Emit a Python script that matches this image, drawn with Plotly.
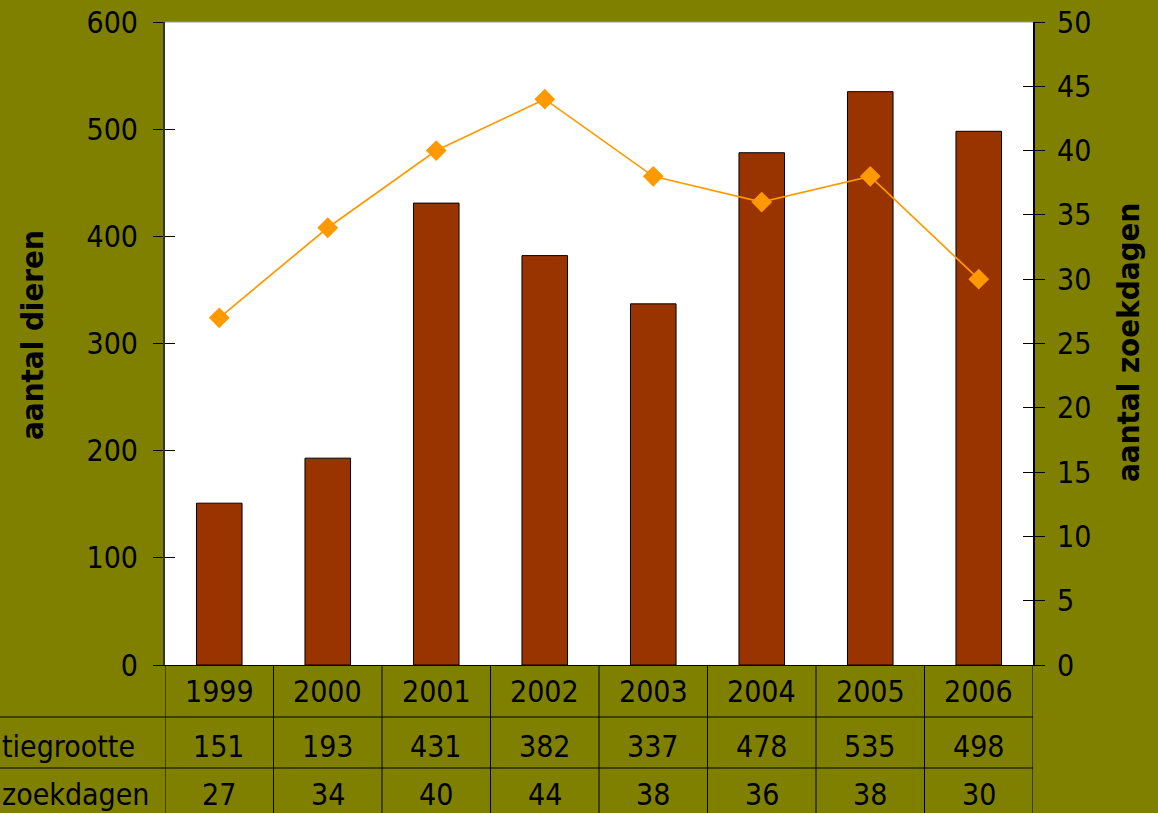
import plotly.graph_objects as go

years = ["1999", "2000", "2001", "2002", "2003", "2004", "2005", "2006"]
populatie = [151, 193, 431, 382, 337, 478, 535, 498]
zoekdagen = [27, 34, 40, 44, 38, 36, 38, 30]
left_ticks = [0, 100, 200, 300, 400, 500, 600]
right_ticks = [0, 5, 10, 15, 20, 25, 30, 35, 40, 45, 50]
row_labels = ["tiegrootte", "zoekdagen"]
left_title = "aantal dieren"
right_title = "aantal zoekdagen"

W, H = 1158, 813
L, R, T, B = 165, 125, 22, 148
pw = W - L - R
ph = H - T - B

def px(x):
    return (x - L) / pw

def py(y):
    return (H - B - y) / ph

FONT = "DejaVu Sans Condensed, Noto Sans, DejaVu Sans, sans-serif"
FS = 30
BG = "#808000"
xs = list(range(len(years)))

fig = go.Figure()
fig.add_trace(go.Bar(
    x=xs, y=populatie, width=0.42,
    marker=dict(color="#993300", line=dict(color="black", width=1)),
    yaxis="y", showlegend=False, hoverinfo="skip"))
fig.add_trace(go.Scatter(
    x=xs, y=zoekdagen, yaxis="y2", mode="lines+markers",
    line=dict(color="#FF9900", width=1.7),
    marker=dict(symbol="diamond", size=16, color="#FF9900"),
    showlegend=False, hoverinfo="skip"))
# invisible traces so inside-tick overlay axes render
fig.add_trace(go.Scatter(x=[xs[0]], y=[left_ticks[0]], yaxis="y3", mode="markers",
                         marker=dict(opacity=0), showlegend=False, hoverinfo="skip"))
fig.add_trace(go.Scatter(x=[xs[0]], y=[right_ticks[0]], yaxis="y4", mode="markers",
                         marker=dict(opacity=0), showlegend=False, hoverinfo="skip"))

common = dict(showgrid=False, zeroline=False, tickcolor="black", ticklen=10, tickwidth=1,
              automargin=False, fixedrange=True,
              tickfont=dict(family=FONT, size=FS, color="black"))

fig.update_layout(
    width=W, height=H,
    margin=dict(l=L, r=R, t=T, b=B, pad=0, autoexpand=False),
    paper_bgcolor=BG, plot_bgcolor="white",
    xaxis=dict(range=[-0.5, len(years) - 0.5], showticklabels=False, ticks="", automargin=False,
               showgrid=False, zeroline=False, showline=True, linecolor="black", linewidth=1),
    yaxis=dict(range=[0, 600], tickvals=left_ticks, ticks="outside", showline=True,
               linecolor="#333333", linewidth=2, ticklabelstandoff=9, **common),
    yaxis2=dict(range=[0, 50], tickvals=right_ticks, ticks="outside", overlaying="y", side="right",
                showline=True, linecolor="black", linewidth=2, ticklabelstandoff=6, **common),
    yaxis3=dict(range=[0, 600], tickvals=left_ticks, ticks="inside", overlaying="y", side="left",
                showticklabels=False, showline=False, **common),
    yaxis4=dict(range=[0, 50], tickvals=right_ticks, ticks="inside", overlaying="y", side="right",
                showticklabels=False, showline=False, **common),
)

shapes = []
# plot area top border
shapes.append(dict(type="line", xref="paper", yref="paper", x0=0, x1=1, y0=1, y1=1,
                   line=dict(color="#999999", width=1)))
# table vertical lines
for i in range(len(years) + 1):
    shapes.append(dict(type="line", xref="x", yref="paper", x0=i - 0.5, x1=i - 0.5,
                       y0=0, y1=py(H + 5), line=dict(color="black", width=1)))
# table horizontal lines
for yy in [717, 768]:
    shapes.append(dict(type="line", xref="paper", yref="paper", x0=px(0), x1=1,
                       y0=py(yy), y1=py(yy), line=dict(color="black", width=1)))
fig.update_layout(shapes=shapes)

ann = []
for i, yv in enumerate(years):
    ann.append(dict(x=i, y=py(691), xref="x", yref="paper", text=yv, showarrow=False,
                    font=dict(family=FONT, size=FS, color="black"), xanchor="center", yanchor="middle"))
for i, v in enumerate(populatie):
    ann.append(dict(x=i, y=py(746), xref="x", yref="paper", text=str(v), showarrow=False,
                    font=dict(family=FONT, size=FS, color="black"), xanchor="center", yanchor="middle"))
for i, v in enumerate(zoekdagen):
    ann.append(dict(x=i, y=py(795), xref="x", yref="paper", text=str(v), showarrow=False,
                    font=dict(family=FONT, size=FS, color="black"), xanchor="center", yanchor="middle"))
ann.append(dict(x=px(0), y=py(746), xref="paper", yref="paper", text=row_labels[0], showarrow=False,
                font=dict(family=FONT, size=FS, color="black"), xanchor="left", yanchor="middle"))
ann.append(dict(x=px(0), y=py(795), xref="paper", yref="paper", text=row_labels[1], showarrow=False,
                font=dict(family=FONT, size=FS, color="black"), xanchor="left", yanchor="middle"))
ann.append(dict(x=px(32), y=py(335), xref="paper", yref="paper", text="<b>" + left_title + "</b>",
                showarrow=False, textangle=-90,
                font=dict(family=FONT, size=31, color="black"), xanchor="center", yanchor="middle"))
ann.append(dict(x=px(1128), y=py(343), xref="paper", yref="paper", text="<b>" + right_title + "</b>",
                showarrow=False, textangle=-90,
                font=dict(family=FONT, size=31, color="black"), xanchor="center", yanchor="middle"))
fig.update_layout(annotations=ann)

fig.write_html(
    "out.html",
    config={"displayModeBar": False},
    post_script="document.body.style.margin='0';document.body.style.overflow='hidden';",
)
